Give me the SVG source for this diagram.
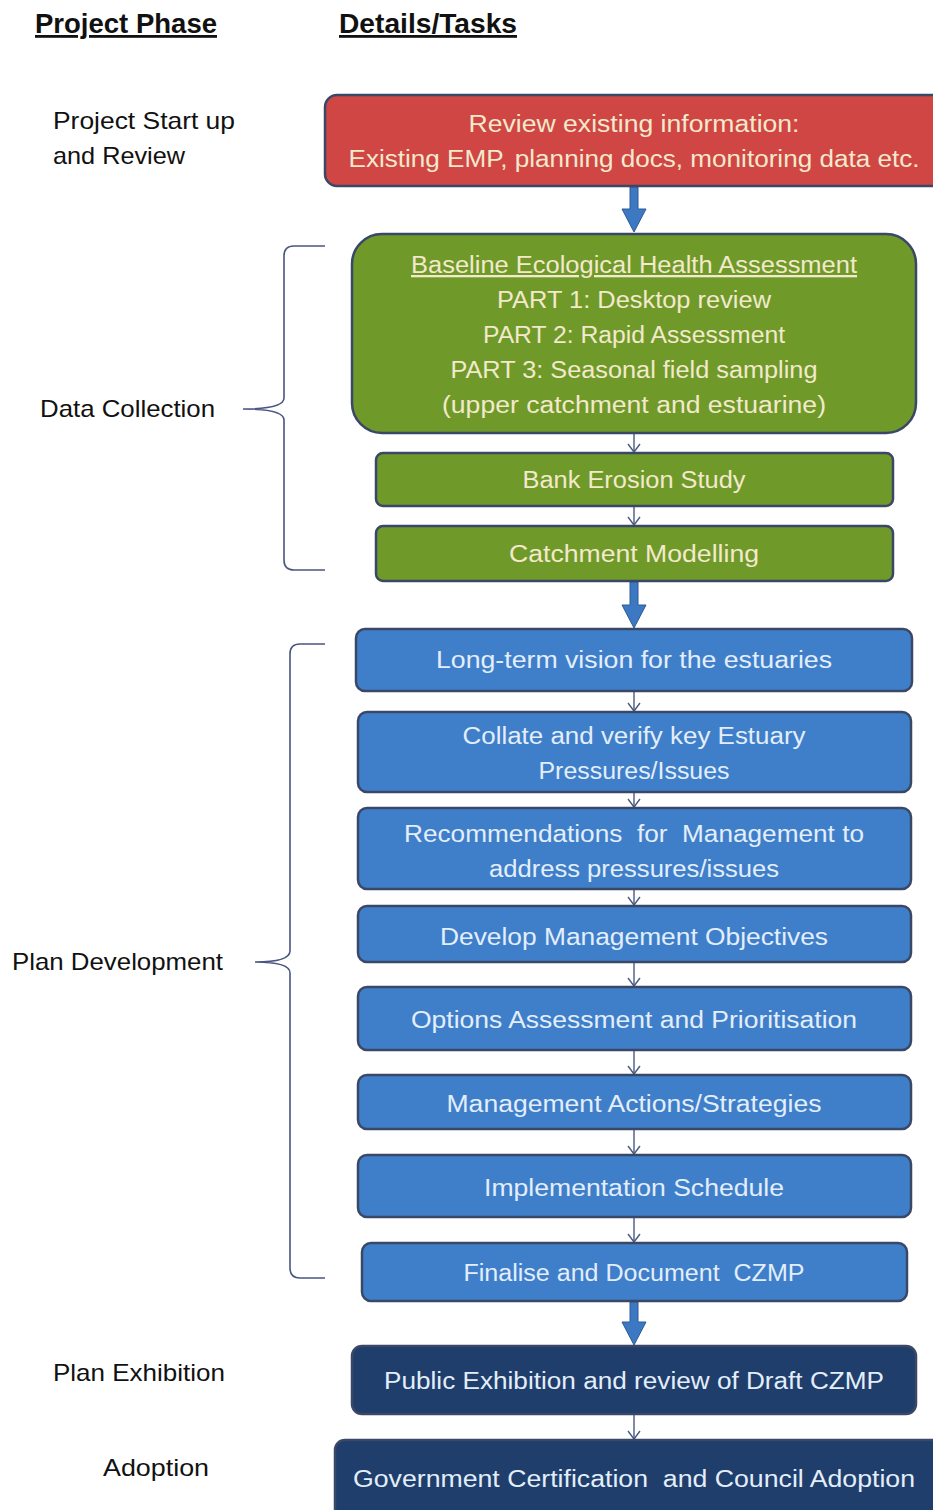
<svg xmlns="http://www.w3.org/2000/svg" width="933" height="1510" viewBox="0 0 933 1510">
<style>
.box{stroke:#3b4766;stroke-width:2.5}
.red{fill:#cf4645}
.green{fill:#6f9a2a}
.blue{fill:#3f7fca}
.navy{fill:#1f3e6c}
.tw{font-family:"Liberation Sans",Arial,sans-serif;font-size:23px;text-anchor:middle}
.ty{fill:#f3e9cc}
.tb{fill:#e3eefa}
.lab{font-family:"Liberation Sans",Arial,sans-serif;font-size:24px;fill:#111}
.hd{font-family:"Liberation Sans",Arial,sans-serif;font-size:28px;font-weight:bold;fill:#111;text-decoration:underline}
.thin{stroke:#4a5a82;stroke-width:1.4;fill:none}
.brace{stroke:#4a5580;stroke-width:1.6;fill:none}
.thick{fill:#3d78c2;stroke:#2f5a94;stroke-width:1}
</style>
<defs>
<marker id="v" markerWidth="14" markerHeight="14" refX="11" refY="7" orient="auto" markerUnits="userSpaceOnUse" viewBox="0 0 14 14">
<path d="M3,1 L11,7 L3,13" fill="none" stroke="#4a5a82" stroke-width="1.4"/>
</marker>
</defs>
<rect width="933" height="1510" fill="#ffffff"/>

<g id="headers">
<text class="hd" x="35" y="33" textLength="182" lengthAdjust="spacingAndGlyphs">Project Phase</text>
<text class="hd" x="339" y="33" textLength="178" lengthAdjust="spacingAndGlyphs">Details/Tasks</text>
</g>

<g id="phase-labels">
<text class="lab" x="53" y="129" textLength="182" lengthAdjust="spacingAndGlyphs">Project Start up</text>
<text class="lab" x="53" y="164" textLength="132" lengthAdjust="spacingAndGlyphs">and Review</text>
<text class="lab" x="40" y="417" textLength="175" lengthAdjust="spacingAndGlyphs">Data Collection</text>
<text class="lab" x="12" y="970" textLength="211" lengthAdjust="spacingAndGlyphs">Plan Development</text>
<text class="lab" x="53" y="1381" textLength="172" lengthAdjust="spacingAndGlyphs">Plan Exhibition</text>
<text class="lab" x="103" y="1476" textLength="106" lengthAdjust="spacingAndGlyphs">Adoption</text>
</g>

<g id="braces">
<path class="brace" d="M325,246 L294,246 Q284,246 284,256 L284,398 Q284,409 243,409 Q284,409 284,420 L284,560 Q284,570 294,570 L325,570"/>
<path class="brace" d="M325,644 L300,644 Q290,644 290,654 L290,951 Q290,962 255,962 Q290,962 290,973 L290,1268 Q290,1278 300,1278 L325,1278"/>
</g>

<g id="connectors">
<path class="thick" d="M630,187 L638,187 L638,209 L646,209 L634,232 L622,209 L630,209 Z"/>
<path class="thick" d="M630,582 L638,582 L638,605 L646,605 L634,628 L622,605 L630,605 Z"/>
<path class="thick" d="M630,1302 L638,1302 L638,1322 L646,1322 L634,1345 L622,1322 L630,1322 Z"/>
<line class="thin" x1="634" y1="434" x2="634" y2="452" marker-end="url(#v)"/>
<line class="thin" x1="634" y1="507" x2="634" y2="525" marker-end="url(#v)"/>
<line class="thin" x1="634" y1="692" x2="634" y2="711" marker-end="url(#v)"/>
<line class="thin" x1="634" y1="793" x2="634" y2="807" marker-end="url(#v)"/>
<line class="thin" x1="634" y1="890" x2="634" y2="905" marker-end="url(#v)"/>
<line class="thin" x1="634" y1="963" x2="634" y2="986" marker-end="url(#v)"/>
<line class="thin" x1="634" y1="1051" x2="634" y2="1074" marker-end="url(#v)"/>
<line class="thin" x1="634" y1="1130" x2="634" y2="1154" marker-end="url(#v)"/>
<line class="thin" x1="634" y1="1218" x2="634" y2="1242" marker-end="url(#v)"/>
<line class="thin" x1="634" y1="1415" x2="634" y2="1439" marker-end="url(#v)"/>
</g>

<g id="n-review">
<rect class="box red" x="325" y="95" width="620" height="91" rx="12"/>
<text class="tw ty" x="634" y="132" textLength="331" lengthAdjust="spacingAndGlyphs">Review existing information:</text>
<text class="tw ty" x="634" y="167" textLength="571" lengthAdjust="spacingAndGlyphs">Existing EMP, planning docs, monitoring data etc.</text>
</g>

<g id="n-baseline">
<rect class="box green" x="352" y="234" width="564" height="199" rx="30"/>
<text class="tw ty" x="634" y="273" textLength="446" lengthAdjust="spacingAndGlyphs" text-decoration="underline">Baseline Ecological Health Assessment</text>
<text class="tw ty" x="634" y="308" textLength="274" lengthAdjust="spacingAndGlyphs">PART 1: Desktop review</text>
<text class="tw ty" x="634" y="343" textLength="302" lengthAdjust="spacingAndGlyphs">PART 2: Rapid Assessment</text>
<text class="tw ty" x="634" y="378" textLength="367" lengthAdjust="spacingAndGlyphs">PART 3: Seasonal field sampling</text>
<text class="tw ty" x="634" y="413" textLength="384" lengthAdjust="spacingAndGlyphs">(upper catchment and estuarine)</text>
</g>

<g id="n-bank">
<rect class="box green" x="376" y="453" width="517" height="53" rx="7"/>
<text class="tw ty" x="634" y="488" textLength="223" lengthAdjust="spacingAndGlyphs">Bank Erosion Study</text>
</g>

<g id="n-catchment">
<rect class="box green" x="376" y="526" width="517" height="55" rx="7"/>
<text class="tw ty" x="634" y="562" textLength="250" lengthAdjust="spacingAndGlyphs">Catchment Modelling</text>
</g>

<g id="n-vision">
<rect class="box blue" x="356" y="629" width="556" height="62" rx="9"/>
<text class="tw tb" x="634" y="668" textLength="396" lengthAdjust="spacingAndGlyphs">Long-term vision for the estuaries</text>
</g>

<g id="n-collate">
<rect class="box blue" x="358" y="712" width="553" height="80" rx="9"/>
<text class="tw tb" x="634" y="744" textLength="343" lengthAdjust="spacingAndGlyphs">Collate and verify key Estuary</text>
<text class="tw tb" x="634" y="779" textLength="191" lengthAdjust="spacingAndGlyphs">Pressures/Issues</text>
</g>

<g id="n-recommend">
<rect class="box blue" x="358" y="808" width="553" height="81" rx="9"/>
<text class="tw tb" x="634" y="842" textLength="460" lengthAdjust="spacingAndGlyphs" xml:space="preserve">Recommendations  for  Management to</text>
<text class="tw tb" x="634" y="877" textLength="290" lengthAdjust="spacingAndGlyphs">address pressures/issues</text>
</g>

<g id="n-objectives">
<rect class="box blue" x="358" y="906" width="553" height="56" rx="9"/>
<text class="tw tb" x="634" y="945" textLength="388" lengthAdjust="spacingAndGlyphs">Develop Management Objectives</text>
</g>

<g id="n-options">
<rect class="box blue" x="358" y="987" width="553" height="63" rx="9"/>
<text class="tw tb" x="634" y="1028" textLength="446" lengthAdjust="spacingAndGlyphs">Options Assessment and Prioritisation</text>
</g>

<g id="n-actions">
<rect class="box blue" x="358" y="1075" width="553" height="54" rx="9"/>
<text class="tw tb" x="634" y="1112" textLength="375" lengthAdjust="spacingAndGlyphs">Management Actions/Strategies</text>
</g>

<g id="n-schedule">
<rect class="box blue" x="358" y="1155" width="553" height="62" rx="9"/>
<text class="tw tb" x="634" y="1196" textLength="300" lengthAdjust="spacingAndGlyphs">Implementation Schedule</text>
</g>

<g id="n-finalise">
<rect class="box blue" x="362" y="1243" width="545" height="58" rx="9"/>
<text class="tw tb" x="634" y="1281" textLength="341" lengthAdjust="spacingAndGlyphs" xml:space="preserve">Finalise and Document  CZMP</text>
</g>

<g id="n-exhibition">
<rect class="box navy" x="352" y="1346" width="564" height="68" rx="10"/>
<text class="tw tb" x="634" y="1389" textLength="500" lengthAdjust="spacingAndGlyphs">Public Exhibition and review of Draft CZMP</text>
</g>

<g id="n-adoption">
<rect class="box navy" x="335" y="1440" width="610" height="80" rx="10"/>
<text class="tw tb" x="634" y="1487" textLength="562" lengthAdjust="spacingAndGlyphs" xml:space="preserve">Government Certification  and Council Adoption</text>
</g>
</svg>
